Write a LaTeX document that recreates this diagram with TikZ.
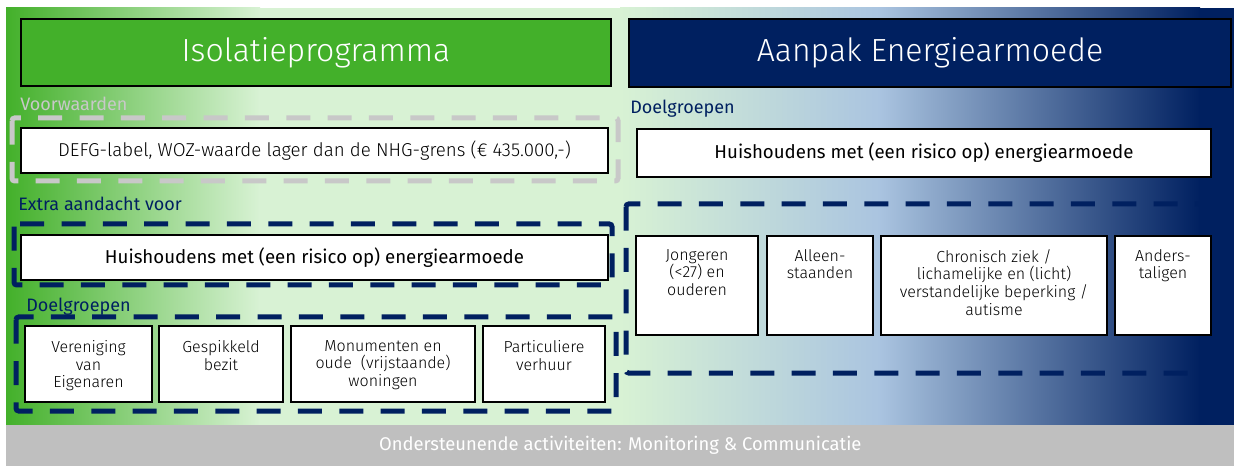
\documentclass[tikz,border=0pt]{standalone}
\usepackage{fontspec}
\setmainfont{Fira Sans}
\newfontfamily\legere{Fira Sans Light}
\usetikzlibrary{positioning}
\definecolor{vertIso}{RGB}{67,176,42}
\definecolor{vertPale}{RGB}{216,242,212}
\definecolor{bleuClair}{RGB}{170,196,224}
\definecolor{marine}{RGB}{0,32,96}
\definecolor{grisBande}{RGB}{191,191,191}
\definecolor{grisTiret}{RGB}{200,200,200}
\begin{document}
\begin{tikzpicture}[x=0.75pt,y=-0.75pt]
			\def\px{0.75pt}
			\tikzstyle{titre}=[draw=black, line width=1.5pt, anchor=north west, inner sep=0pt, text=white, font=\legere\fontsize{24}{28}\selectfont]
			\tikzstyle{boite}=[draw=black, line width=1.5pt, fill=white, anchor=north west, inner sep=0pt]
			\tikzstyle{texte}=[anchor=north, align=center, inner sep=0pt, font=\legere\fontsize{12}{13.3}\selectfont]
			\tikzstyle{etiquette}=[anchor=base west, inner sep=0pt, font=\fontsize{13.5}{15}\selectfont]
			\tikzstyle{cadre}=[line width=3.75pt, dash pattern=on 18pt off 13pt, rounded corners=2pt]
			\useasboundingbox (0,0) rectangle (1234,466);
			% fond en degrade
			\shade[left color=vertIso, right color=vertPale] (6,8) rectangle (260,425);
			\fill[vertPale] (259,8) rectangle (621,425);
			\shade[left color=vertPale, right color=bleuClair] (620,8) rectangle (880,425);
			\shade[left color=bleuClair, right color=marine] (879,8) rectangle (1200,425);
			\fill[marine] (1199,8) rectangle (1234,425);
			\node[fill=grisBande, anchor=north west, inner sep=0pt, minimum width=1228*\px, minimum height=41*\px] (steun) at (6,425) {};
			\node[text=white, font=\fontsize{13.8}{15}\selectfont] (steunT) at (steun.center) {Ondersteunende activiteiten: Monitoring \& Communicatie};
			% titres
			\node[titre, fill=vertIso, minimum width=590*\px, minimum height=67*\px] (iso) at (20,18) {Isolatieprogramma};
			\node[titre, fill=marine, minimum width=602*\px, minimum height=68*\px] (aanpak) at (628,18) {Aanpak Energiearmoede};
			% cadres en tirets
			\draw[cadre, grisTiret] (12,118) rectangle (618,181);
			\draw[cadre, marine] (14,224) rectangle (612,285);
			\draw[cadre, marine] (16,317) rectangle (616,411);
			\draw[cadre, marine] (626,204) rectangle (1232,373);
			% partie gauche
			\node[etiquette, text=grisTiret] (voorw) at (20,111) {Voorwaarden};
			\node[boite, minimum width=587*\px, minimum height=45*\px, font=\legere\fontsize{14}{16}\selectfont] (defg) at (20,127) {DEFG-label, WOZ-waarde lager dan de NHG-grens (€ 435.000,-)};
			\node[etiquette, text=marine] (extra) at (18,211) {Extra aandacht voor};
			\node[boite, minimum width=587*\px, minimum height=45*\px, font=\fontsize{14}{16}\selectfont] (huisL) at (20,234) {Huishoudens met (een risico op) energiearmoede};
			\node[etiquette, text=marine] (doelL) at (26,311) {Doelgroepen};
			\node[boite, minimum width=127*\px, minimum height=76*\px] (vve) at (24,325) {};
			\node[boite, minimum width=124*\px, minimum height=76*\px] (gesp) at (158,325) {};
			\node[boite, minimum width=184*\px, minimum height=76*\px] (monu) at (290,325) {};
			\node[boite, minimum width=122*\px, minimum height=76*\px] (part) at (482,325) {};
			\node[texte] (vveT) at ([yshift=-15*\px]vve.north) {Vereniging\\van\\Eigenaren};
			\node[texte] (gespT) at ([yshift=-15*\px]gesp.north) {Gespikkeld\\bezit};
			\node[texte] (monuT) at ([yshift=-15*\px]monu.north) {Monumenten en\\oude~ (vrijstaande)\\woningen};
			\node[texte] (partT) at ([yshift=-15*\px]part.north) {Particuliere\\verhuur};
			% partie droite
			\node[etiquette, text=marine] (doelR) at (630,114) {Doelgroepen};
			\node[boite, minimum width=574*\px, minimum height=48*\px, font=\fontsize{14}{16}\selectfont] (huisR) at (636,128) {Huishoudens met (een risico op) energiearmoede};
			\node[boite, minimum width=122*\px, minimum height=99*\px] (jong) at (635,235) {};
			\node[boite, minimum width=106*\px, minimum height=99*\px] (allee) at (766,235) {};
			\node[boite, minimum width=226*\px, minimum height=99*\px] (chron) at (880,235) {};
			\node[boite, minimum width=96*\px, minimum height=99*\px] (anders) at (1114,235) {};
			\node[texte] (jongT) at ([yshift=-14*\px]jong.north) {Jongeren\\(<27) en\\ouderen};
			\node[texte] (alleeT) at ([yshift=-14*\px]allee.north) {Alleen-\\staanden};
			\node[texte] (chronT) at ([yshift=-14*\px]chron.north) {Chronisch ziek /\\lichamelijke en (licht)\\verstandelijke beperking /\\autisme};
			\node[texte] (andersT) at ([yshift=-14*\px]anders.north) {Anders-\\taligen};
		\end{tikzpicture}
\end{document}
